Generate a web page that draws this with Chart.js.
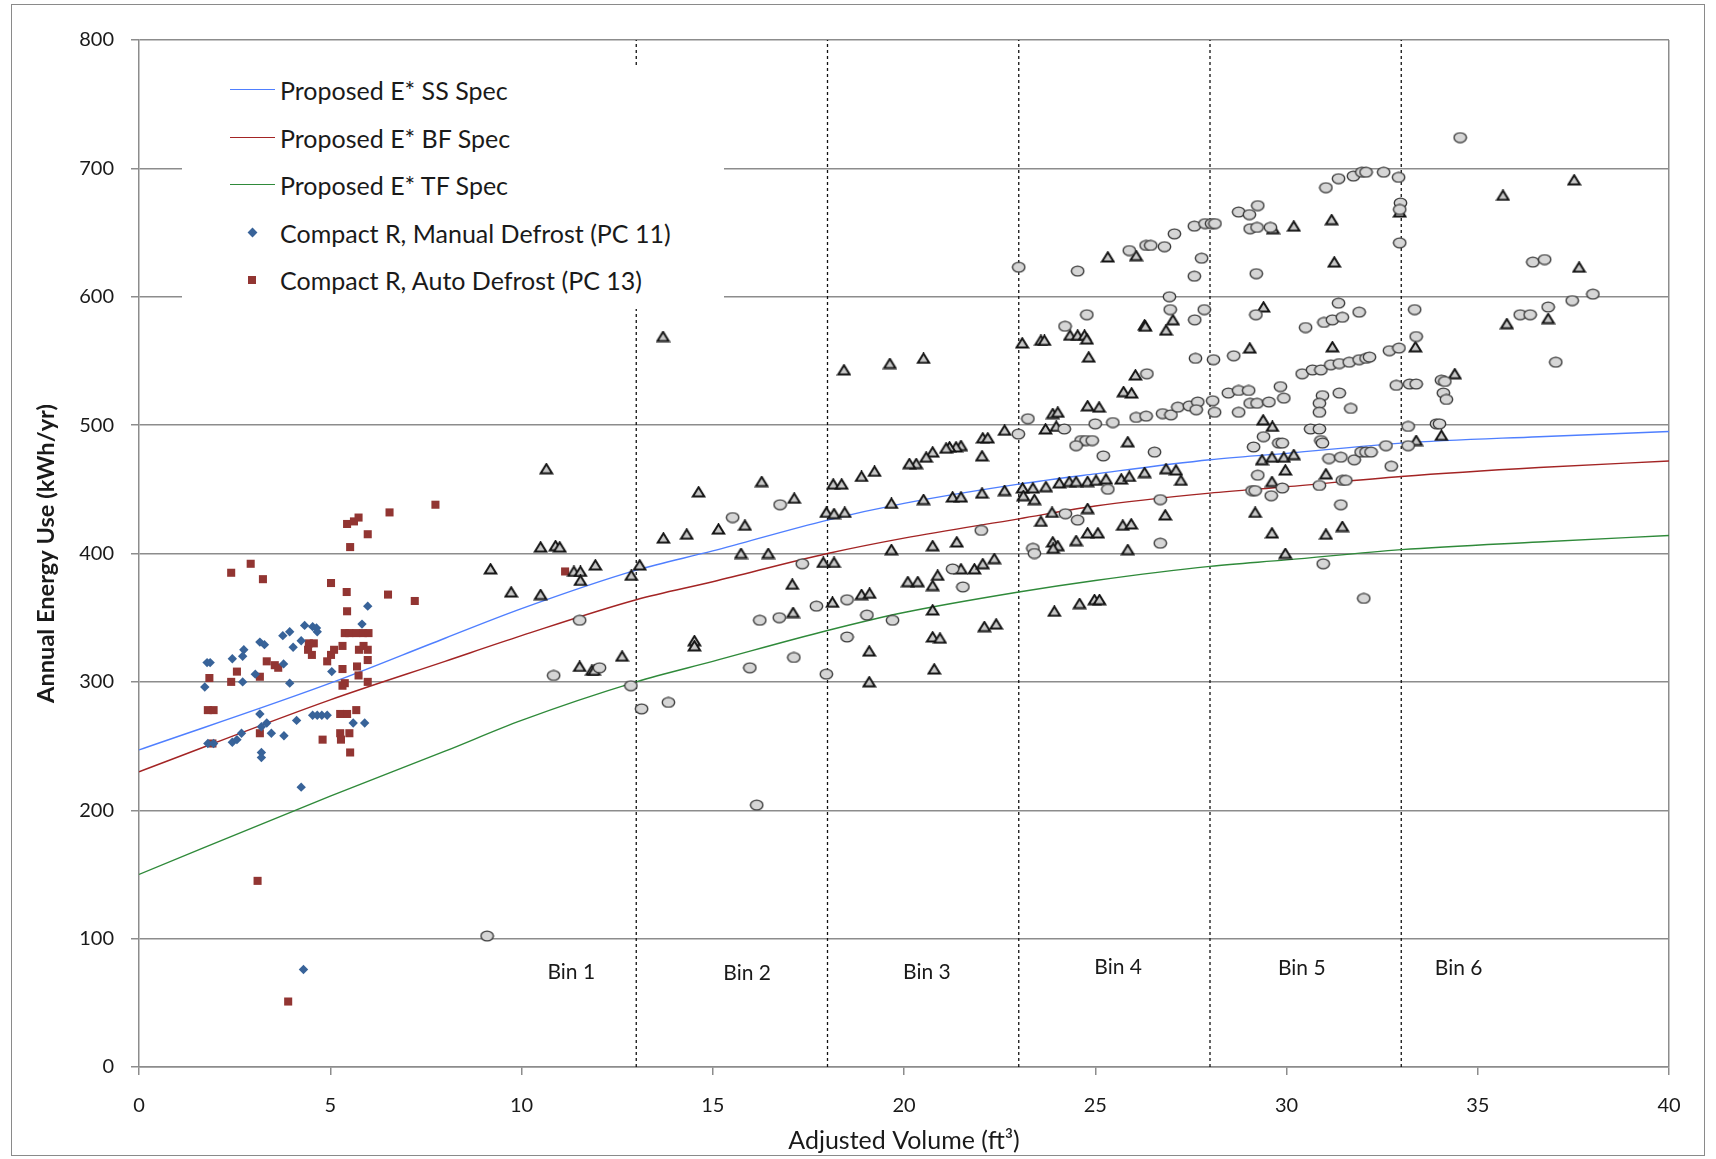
<!DOCTYPE html>
<html>
<head>
<meta charset="utf-8">
<script src="https://cdn.jsdelivr.net/npm/chart.js@4.4.1/dist/chart.umd.min.js"></script>
<style>
  html, body { margin: 0; padding: 0; background: #fff; }
  #wrap { position: relative; width: 1716px; height: 1159px; font-family: Lato, sans-serif; color: #1a1a1a; overflow: hidden; }
  #chart { position: absolute; left: 0; top: 0; }
  #frame { position: absolute; left: 11px; top: 4px; width: 1692px; height: 1150px; border: 1.5px solid #8a8a8a; pointer-events: none; }
  #legend { position: absolute; left: 182px; top: 66px; width: 542px; height: 243px; background: #fff; }
  .row { position: absolute; left: 0; width: 542px; height: 30px; }
  .row span { position: absolute; left: 98px; top: 0; line-height: 30px; font-size: 25px; white-space: nowrap; }
  .sym { position: absolute; }
</style>
</head>
<body>
<div id="wrap">
  <canvas id="chart" width="1716" height="1159"></canvas>
  <div id="legend"></div>
  <div id="frame"></div>
</div>
<script>
// spec curves
const specX = [0, 5, 8, 10, 13, 15, 18, 20, 23, 25, 28, 30, 33, 36.6, 40];
const ssSpec = [247, 299, 334, 357, 387, 402, 426, 439, 454, 462, 473, 478, 486, 491, 495];
const bfSpec = [230, 286, 316, 336, 364, 378, 400, 412, 427, 437, 447, 452, 460, 467, 472];
const tfSpec = [150, 211, 246, 270, 300, 316, 340, 354, 370, 379, 390, 395, 403, 409, 414];

// Compact R, Manual Defrost (PC 11)
const manualX = [1.78, 1.86, 1.72, 1.8, 1.95, 2.44, 2.74, 2.71, 2.44, 2.56, 2.68, 2.71,
  3.04, 3.16, 3.28, 3.16, 3.2, 3.34, 3.2, 3.2, 3.46, 3.76, 3.94, 3.78, 3.79, 3.94,
  4.03, 4.12, 4.24, 4.24, 4.33, 4.54, 4.64, 4.66, 4.54, 4.66, 4.78, 4.92,
  5.04, 5.83, 5.98, 5.6, 5.9, 4.3];
const manualY = [315, 315, 296, 252, 252, 318, 325, 320, 253, 255, 260, 300,
  306, 331, 329, 275, 265, 268, 245, 241, 260, 336, 339, 314, 258, 299,
  327, 270, 332, 218, 344, 343, 342, 339, 274, 274, 274, 274,
  308, 345, 359, 268, 268, 76];

// Compact R, Auto Defrost (PC 13)
const autoX = [1.8, 1.95, 1.84, 1.92, 2.41, 2.92, 3.24, 2.41, 2.56, 3.16, 3.16, 3.34, 3.55, 3.64,
  5.02, 5.43, 5.44, 5.44, 5.62, 5.74, 5.52, 5.98, 6.55, 7.75, 6.51, 7.21, 11.14,
  4.44, 4.57, 4.42, 4.52, 4.92, 5.02, 5.1, 5.32, 5.32, 5.38, 5.32,
  5.38, 5.5, 5.68, 5.86, 6.0, 5.7, 5.75, 5.87, 5.98, 5.98, 5.98, 5.74,
  5.26, 5.44, 5.68, 5.26, 5.5, 5.28, 4.8, 5.52, 3.1, 3.9];
const autoY = [278, 278, 303, 252, 385, 392, 380, 300, 308, 304, 260, 316, 313, 311,
  377, 370, 355, 423, 425, 428, 405, 415, 432, 438, 368, 363, 386,
  330, 330, 325, 321, 316, 321, 325, 328, 310, 299, 297,
  338, 338, 338, 338, 338, 312, 325, 328, 325, 317, 300, 305,
  275, 275, 278, 260, 260, 255, 255, 245, 145, 51];

// other product classes, circles
const circleX = [9.1, 11.52, 10.84, 12.04, 12.86, 13.14, 13.84, 15.52, 16.76, 17.34,
  16.23, 16.74, 17.71, 15.97, 17.12, 17.97, 16.15, 18.51, 19.03, 18.51,
  19.7, 24.78, 24.21, 26.96, 27.85, 27.62, 28.09, 28.62, 26.35, 23.24,
  22.99, 24.19, 25.0, 25.46, 26.07, 26.33, 26.76, 26.98, 27.16, 27.46,
  27.68, 28.07, 28.12, 27.64, 24.63, 24.76, 24.92, 24.5, 25.21, 26.55,
  25.33, 24.22, 24.54, 26.7, 22.02, 26.7, 23.37, 23.41, 21.27, 21.54,
  23.0, 24.54, 25.89, 26.33, 26.45, 26.81, 27.07, 27.59, 27.59, 26.94,
  27.6, 34.54, 31.03, 31.36, 31.75, 31.97, 32.08, 32.54, 32.93, 32.98,
  32.96, 32.96, 28.75, 29.03, 29.25, 27.87, 28.04, 28.13, 29.05, 29.23,
  29.58, 27.78, 29.21, 29.2, 31.36, 30.5, 30.98, 31.2, 31.46, 31.9,
  33.35, 33.39, 32.69, 32.94, 30.41, 30.68, 30.9, 31.16, 31.38, 31.64,
  31.9, 32.08, 32.17, 32.87, 33.22, 33.39, 34.05, 34.14, 34.1, 34.18,
  28.48, 28.75, 29.01, 29.05, 29.23, 29.54, 29.84, 29.93, 28.75, 30.94,
  30.86, 30.86, 31.38, 31.68, 30.63, 30.86, 30.9, 30.94, 29.4, 29.14,
  29.8, 29.89, 33.18, 33.18, 32.6, 33.92, 34.0, 31.11, 31.42, 31.77,
  31.95, 32.08, 32.21, 32.74, 29.25, 29.1, 29.18, 29.89, 29.6, 30.86,
  31.46, 31.55, 31.42, 30.96, 32.02, 36.44, 36.75, 37.47, 38.01, 36.11,
  36.37, 36.84, 37.04];
const circleY = [102, 348, 305, 311, 297, 279, 284, 428, 438, 392,
  348, 350, 359, 311, 319, 306, 204, 364, 352, 335,
  348, 586, 577, 590, 590, 552, 551, 554, 540, 505,
  493, 497, 501, 502, 506, 507, 509, 508, 514, 515,
  518, 519, 510, 512, 488, 488, 488, 484, 476, 479,
  450, 431, 426, 442, 418, 408, 404, 400, 388, 374,
  623, 620, 636, 640, 640, 639, 649, 655, 616, 600,
  582, 724, 685, 692, 694, 697, 697, 697, 693, 673,
  668, 642, 666, 664, 671, 657, 657, 657, 653, 654,
  654, 630, 618, 586, 595, 576, 580, 582, 584, 588,
  590, 569, 558, 560, 540, 543, 543, 547, 548, 549,
  551, 552, 553, 531, 532, 532, 535, 534, 525, 520,
  525, 527, 527, 517, 517, 518, 530, 521, 510, 523,
  517, 510, 525, 513, 497, 497, 488, 486, 491, 483,
  486, 486, 499, 484, 484, 501, 501, 474, 475, 473,
  479, 479, 479, 468, 461, 449, 449, 451, 445, 453,
  457, 457, 438, 392, 365, 627, 629, 597, 602, 586,
  586, 592, 549];

// other product classes, triangles
const triX = [13.7, 18.43, 19.63, 10.65, 10.5, 10.89, 11.0, 9.19, 9.73, 10.5,
  11.37, 11.54, 11.54, 11.93, 12.87, 13.09, 12.63, 11.52, 11.84, 11.9,
  13.71, 14.32, 14.63, 15.15, 15.84, 16.28, 17.13, 15.74, 16.45, 14.52,
  14.52, 17.08, 17.1, 18.13, 17.89, 18.17, 17.97, 18.17, 18.45, 18.15,
  18.37, 18.89, 19.23, 19.67, 19.67, 18.89, 19.1, 19.09, 19.09, 20.51,
  23.09, 23.58, 23.67, 24.34, 24.54, 24.72, 24.78, 24.83, 26.29, 26.31,
  27.03, 26.85, 29.04, 26.05, 25.74, 25.95, 24.8, 25.1, 23.89, 24.02,
  23.98, 23.7, 22.63, 22.06, 22.19, 21.49, 21.36, 21.19, 21.1, 20.75,
  20.58, 20.32, 20.14, 22.04, 25.85, 20.51, 21.27, 21.49, 22.04, 22.63,
  23.1, 23.37, 23.71, 24.06, 24.32, 24.5, 24.8, 25.02, 25.28, 25.68,
  25.89, 26.29, 26.85, 27.11, 27.24, 23.12, 23.41, 23.58, 23.87, 24.8,
  25.72, 25.94, 24.8, 25.07, 24.5, 26.83, 25.85, 20.75, 21.38, 20.1,
  20.36, 20.75, 20.88, 21.49, 21.84, 22.06, 22.36, 23.89, 24.02, 23.9,
  20.75, 23.93, 24.59, 24.98, 25.11, 22.1, 22.41, 20.75, 20.94, 20.79,
  25.33, 26.07, 35.66, 31.18, 30.19, 29.65, 32.96, 31.25, 29.4, 35.76,
  31.2, 33.37, 34.4, 29.39, 29.63, 29.36, 29.62, 29.93, 30.19, 34.05,
  33.39, 29.97, 31.03, 29.62, 29.18, 29.62, 31.03, 31.46, 29.97, 37.52,
  37.65, 36.84];
const triY = [569, 543, 548, 466, 405, 406, 405, 388, 370, 368,
  386, 386, 379, 391, 383, 391, 320, 312, 309, 309,
  412, 415, 448, 419, 422, 456, 443, 400, 400, 332,
  328, 376, 354, 362, 393, 393, 432, 431, 432, 454,
  454, 460, 464, 439, 403, 368, 369, 324, 300, 552,
  564, 566, 566, 570, 570, 570, 567, 553, 578, 577,
  582, 574, 560, 539, 526, 525, 515, 514, 509, 510,
  499, 497, 496, 490, 490, 484, 483, 483, 482, 479,
  475, 470, 470, 476, 487, 442, 444, 444, 447, 449,
  451, 451, 452, 455, 456, 456, 456, 457, 458, 458,
  460, 463, 466, 465, 457, 445, 442, 425, 432, 435,
  422, 423, 416, 416, 410, 430, 403, 406, 409, 378,
  378, 375, 383, 388, 388, 392, 396, 409, 406, 404,
  356, 355, 361, 364, 364, 343, 345, 335, 334, 310,
  631, 632, 679, 660, 655, 653, 666, 627, 592, 579,
  561, 561, 540, 504, 499, 473, 475, 475, 477, 492,
  488, 465, 462, 456, 432, 416, 415, 421, 400, 691,
  623, 583];

// size bins
const binEdges = [13, 18, 23, 28, 33];
const binNames = ['Bin 1', 'Bin 2', 'Bin 3', 'Bin 4', 'Bin 5', 'Bin 6'];
const binLabelX = [11.3, 15.9, 20.6, 25.6, 30.4, 34.5];
const binLabelY = [74, 73, 74, 78, 77, 77];

const xTicksMax = 40;
const yTicksMax = 800;

const ssColor = '#4f7fff';
const bfColor = '#a32424';
const tfColor = '#2f8a3a';
const manualColor = '#386399';
const autoColor = '#923532';
const gridColor = '#8c8c8c';

function zip(xs, ys) {
  return xs.map((x, i) => ({ x: x, y: ys[i] }));
}

// gray markers drawn as small images so they come out slightly flattened like the original
function makeMarker(kind) {
  const c = document.createElement('canvas');
  c.width = 15;
  c.height = 12;
  const g = c.getContext('2d');
  g.beginPath();
  if (kind === 'circle') {
    g.ellipse(7.5, 6, 6.2, 4.9, 0, 0, Math.PI * 2);
    g.fillStyle = '#d6d6d6';
    g.strokeStyle = '#3a3a3a';
    g.lineWidth = 1.4;
  } else {
    g.moveTo(7.5, 1.3);
    g.lineTo(13.2, 10.6);
    g.lineTo(1.8, 10.6);
    g.closePath();
    g.fillStyle = '#c8c8c8';
    g.strokeStyle = '#141414';
    g.lineWidth = 2;
  }
  g.fill();
  g.stroke();
  return c;
}

const circleImg = makeMarker('circle');
const triImg = makeMarker('triangle');

const datasets = [
  { label: 'circles', data: zip(circleX, circleY), pointStyle: circleImg, pointRadius: 6 },
  { label: 'triangles', data: zip(triX, triY), pointStyle: triImg, pointRadius: 6 },
  { label: 'Compact R, Manual Defrost (PC 11)', data: zip(manualX, manualY), pointStyle: 'rectRot',
    pointRadius: 4.7, backgroundColor: manualColor, borderColor: manualColor, borderWidth: 0 },
  { label: 'Compact R, Auto Defrost (PC 13)', data: zip(autoX, autoY), pointStyle: 'rect',
    pointRadius: 5.7, backgroundColor: autoColor, borderColor: autoColor, borderWidth: 0 },
  { type: 'line', label: 'Proposed E* SS Spec', data: zip(specX, ssSpec), borderColor: ssColor,
    borderWidth: 1.4, pointRadius: 0, cubicInterpolationMode: 'monotone' },
  { type: 'line', label: 'Proposed E* BF Spec', data: zip(specX, bfSpec), borderColor: bfColor,
    borderWidth: 1.4, pointRadius: 0, cubicInterpolationMode: 'monotone' },
  { type: 'line', label: 'Proposed E* TF Spec', data: zip(specX, tfSpec), borderColor: tfColor,
    borderWidth: 1.4, pointRadius: 0, cubicInterpolationMode: 'monotone' },
];
binEdges.forEach(e => {
  datasets.push({
    type: 'line', label: 'bin ' + e, data: [{ x: e, y: 0 }, { x: e, y: yTicksMax }],
    borderColor: '#111', borderWidth: 1.3, borderDash: [3, 3], pointRadius: 0,
  });
});

const binLabels = {
  id: 'binLabels',
  afterDatasetsDraw(chart) {
    const { ctx, scales } = chart;
    ctx.save();
    ctx.font = '21px Lato';
    ctx.fillStyle = '#1a1a1a';
    ctx.textAlign = 'center';
    ctx.textBaseline = 'middle';
    binNames.forEach((name, i) => {
      ctx.fillText(name, scales.x.getPixelForValue(binLabelX[i]), scales.y.getPixelForValue(binLabelY[i]));
    });
    ctx.restore();
  },
};

Chart.defaults.font.family = 'Lato';
Chart.defaults.color = '#1a1a1a';

new Chart(document.getElementById('chart'), {
  type: 'scatter',
  data: { datasets: datasets },
  options: {
    responsive: false,
    devicePixelRatio: 1,
    animation: false,
    layout: { padding: { top: 40, right: 47, left: 0, bottom: 0 } },
    plugins: { legend: { display: false }, tooltip: { enabled: false } },
    scales: {
      x: {
        type: 'linear',
        min: 0,
        max: xTicksMax,
        afterFit: s => { s.height = 92; },
        ticks: { stepSize: 5, padding: 19, font: { size: 20 } },
        grid: {
          color: c => (c.tick && c.tick.value === xTicksMax ? gridColor : 'rgba(0,0,0,0)'),
          tickColor: gridColor, tickLength: 8, lineWidth: 1.5,
        },
        border: { display: true, color: gridColor, width: 1.5 },
        title: { display: true, text: 'Adjusted Volume (ft³)', font: { size: 25 }, padding: { bottom: 3 } },
      },
      y: {
        min: 0,
        max: yTicksMax,
        afterFit: s => { s.width = 139; },
        ticks: { stepSize: 100, padding: 17, font: { size: 20 } },
        grid: { color: gridColor, tickColor: gridColor, tickLength: 8, lineWidth: 1.5 },
        border: { display: true, color: gridColor, width: 1.5 },
        title: { display: true, text: 'Annual Energy Use (kWh/yr)', font: { size: 23.6, weight: 'bold' }, padding: { top: 32 } },
      },
    },
  },
  plugins: [binLabels],
});

// legend, as html over the plot
const legendLabels = ['Proposed E* SS Spec', 'Proposed E* BF Spec', 'Proposed E* TF Spec',
  'Compact R, Manual Defrost (PC 11)', 'Compact R, Auto Defrost (PC 13)'];
const legendKinds = ['line', 'line', 'line', 'diamond', 'square'];
const legendColors = [ssColor, bfColor, tfColor, manualColor, autoColor];

const legend = document.getElementById('legend');
legendLabels.forEach((text, i) => {
  const row = document.createElement('div');
  row.className = 'row';
  row.style.top = (9 + i * 47.5) + 'px';
  const sym = document.createElement('div');
  sym.className = 'sym';
  if (legendKinds[i] === 'line') {
    sym.style.cssText = 'left:48px;top:14px;width:45px;height:0;border-top:1.4px solid ' + legendColors[i];
  } else if (legendKinds[i] === 'diamond') {
    sym.style.cssText = 'left:67px;top:11px;width:7px;height:7px;transform:rotate(45deg);background:' + legendColors[i];
  } else {
    sym.style.cssText = 'left:66px;top:11px;width:8px;height:8px;background:' + legendColors[i];
  }
  const label = document.createElement('span');
  label.textContent = text;
  row.appendChild(sym);
  row.appendChild(label);
  legend.appendChild(row);
});
</script>
</body>
</html>
